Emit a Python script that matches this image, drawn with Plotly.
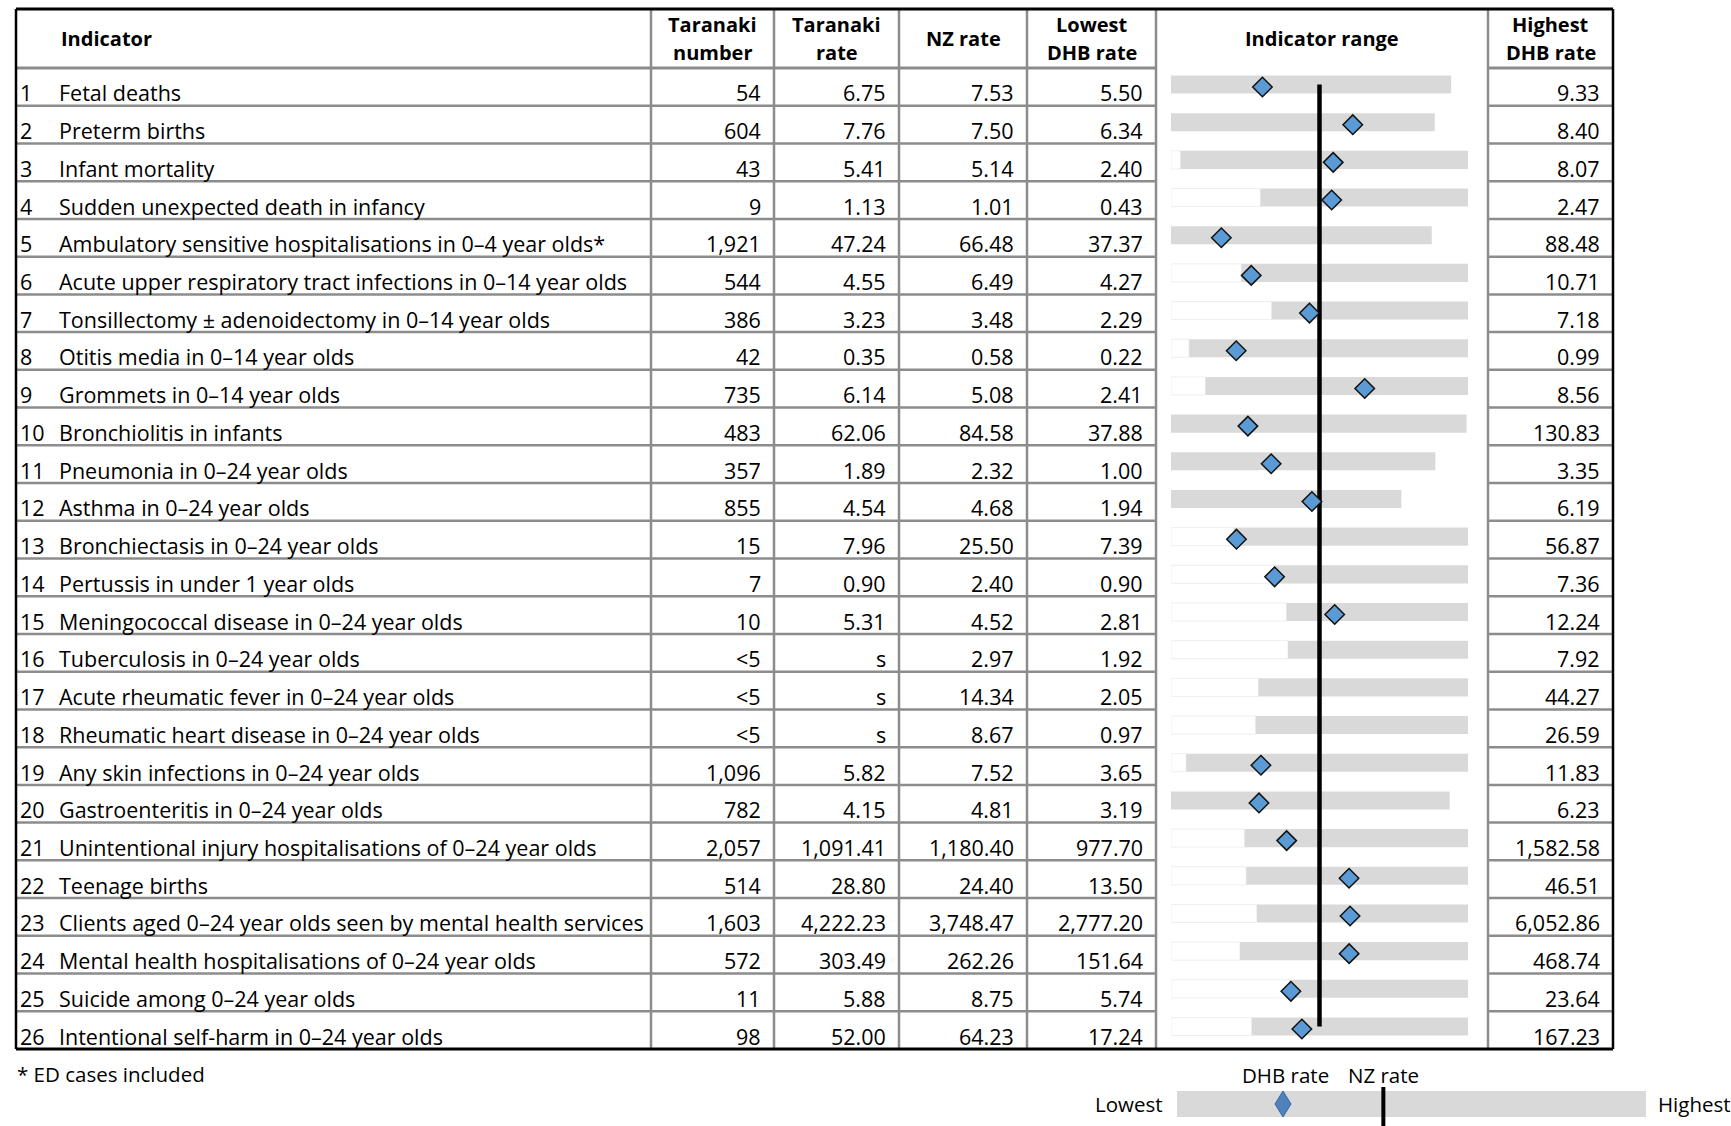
import plotly.graph_objects as go

# ---------------- data ----------------
indicators = [
    "Fetal deaths", "Preterm births", "Infant mortality",
    "Sudden unexpected death in infancy",
    "Ambulatory sensitive hospitalisations in 0–4 year olds*",
    "Acute upper respiratory tract infections in 0–14 year olds",
    "Tonsillectomy ± adenoidectomy in 0–14 year olds",
    "Otitis media in 0–14 year olds", "Grommets in 0–14 year olds",
    "Bronchiolitis in infants", "Pneumonia in 0–24 year olds",
    "Asthma in 0–24 year olds", "Bronchiectasis in 0–24 year olds",
    "Pertussis in under 1 year olds", "Meningococcal disease in 0–24 year olds",
    "Tuberculosis in 0–24 year olds", "Acute rheumatic fever in 0–24 year olds",
    "Rheumatic heart disease in 0–24 year olds",
    "Any skin infections in 0–24 year olds", "Gastroenteritis in 0–24 year olds",
    "Unintentional injury hospitalisations of 0–24 year olds", "Teenage births",
    "Clients aged 0–24 year olds seen by mental health services",
    "Mental health hospitalisations of 0–24 year olds",
    "Suicide among 0–24 year olds", "Intentional self-harm in 0–24 year olds",
]
taranaki_number = ["54", "604", "43", "9", "1,921", "544", "386", "42", "735", "483",
                   "357", "855", "15", "7", "10", "<5", "<5", "<5", "1,096", "782",
                   "2,057", "514", "1,603", "572", "11", "98"]
taranaki_rate = [6.75, 7.76, 5.41, 1.13, 47.24, 4.55, 3.23, 0.35, 6.14, 62.06,
                 1.89, 4.54, 7.96, 0.90, 5.31, None, None, None, 5.82, 4.15,
                 1091.41, 28.80, 4222.23, 303.49, 5.88, 52.00]
nz_rate = [7.53, 7.50, 5.14, 1.01, 66.48, 6.49, 3.48, 0.58, 5.08, 84.58,
           2.32, 4.68, 25.50, 2.40, 4.52, 2.97, 14.34, 8.67, 7.52, 4.81,
           1180.40, 24.40, 3748.47, 262.26, 8.75, 64.23]
lowest_rate = [5.50, 6.34, 2.40, 0.43, 37.37, 4.27, 2.29, 0.22, 2.41, 37.88,
               1.00, 1.94, 7.39, 0.90, 2.81, 1.92, 2.05, 0.97, 3.65, 3.19,
               977.70, 13.50, 2777.20, 151.64, 5.74, 17.24]
highest_rate = [9.33, 8.40, 8.07, 2.47, 88.48, 10.71, 7.18, 0.99, 8.56, 130.83,
                3.35, 6.19, 56.87, 7.36, 12.24, 7.92, 44.27, 26.59, 11.83, 6.23,
                1582.58, 46.51, 6052.86, 468.74, 23.64, 167.23]
headers = [["Indicator"], ["Taranaki", "number"], ["Taranaki", "rate"], ["NZ rate"],
           ["Lowest", "DHB rate"], ["Indicator range"], ["Highest", "DHB rate"]]
footnote = "* ED cases included"
legend_labels = ["DHB rate", "NZ rate", "Lowest", "Highest"]
legend_dhb_pos = 0.226   # illustrative key positions (fraction of key bar)
legend_nz_pos = 0.44

# ---------------- layout helpers ----------------
W, H = 1731, 1126
FONT = "Open Sans"
def X(px): return px / W
def Y(px): return 1 - px / H

col_x = [16, 651, 774, 899, 1027, 1156, 1488, 1613]
top, head_bot, bottom = 9, 68, 1049
n = len(indicators)
rh = (bottom - head_bot) / n
rows = list(range(1, n + 1))

def fmt(v):
    return "s" if v is None else f"{v:,.2f}"

def norm(v, nz, lo, hi):
    if v is None:
        return None
    span = max(nz - lo, hi - nz)
    return 0.5 + (v - nz) / span * 0.5

low_n = [norm(l, z, l, h) for l, z, h in zip(lowest_rate, nz_rate, highest_rate)]
high_n = [norm(h, z, l, h) for l, z, h in zip(lowest_rate, nz_rate, highest_rate)]
nz_n = [norm(z, z, l, h) for l, z, h in zip(lowest_rate, nz_rate, highest_rate)]
tar_n = [norm(t, z, l, h) for t, l, z, h in zip(taranaki_rate, lowest_rate, nz_rate, highest_rate)]

fig = go.Figure()

# range chart
bar_c0 = 84.5
bar_pitch = (1026.5 - 84.5) / (n - 1)
def ydom(shift):
    t = bar_c0 - bar_pitch / 2 + shift
    b = bar_c0 + (n - 1) * bar_pitch + bar_pitch / 2 + shift
    return [Y(b), Y(t)]

fig.add_trace(go.Bar(orientation="h", y=rows, x=low_n, base=[0] * n, width=0.48,
                     marker=dict(color="#ffffff", line=dict(color="#efefef", width=1)),
                     xaxis="x2", yaxis="y2", hoverinfo="skip"))
fig.add_trace(go.Bar(orientation="h", y=rows, x=[h - l for h, l in zip(high_n, low_n)],
                     base=low_n, width=0.48,
                     marker=dict(color="#d9d9d9", line=dict(width=0)),
                     xaxis="x2", yaxis="y2", hoverinfo="skip"))
fig.add_trace(go.Scatter(x=nz_n, y=rows, mode="lines",
                         line=dict(color="#000000", width=4.5),
                         xaxis="x2", yaxis="y2", hoverinfo="skip"))
fig.add_trace(go.Scatter(x=tar_n, y=rows, mode="markers",
                         marker=dict(symbol="diamond", size=15, color="#5b9bd5",
                                     line=dict(color="#111111", width=1.5)),
                         xaxis="x2", yaxis="y3", hoverinfo="skip"))

hid = dict(visible=False, showgrid=False, zeroline=False, fixedrange=True)
fig.update_layout(
    xaxis2=dict(domain=[X(1171), X(1468)], range=[0, 1], anchor="y2", **hid),
    yaxis2=dict(domain=ydom(0), range=[n + 0.5, 0.5], anchor="x2", **hid),
    yaxis3=dict(domain=ydom(2.5), range=[n + 0.5, 0.5], anchor="x2", **hid),
    barmode="overlay",
)

# ---------------- table lines ----------------
shapes = []
grid = dict(color="#8c8c8c", width=2.5)
for cx in col_x[1:-1]:
    shapes.append(dict(type="line", xref="paper", yref="paper",
                       x0=X(cx), x1=X(cx), y0=Y(top), y1=Y(bottom), line=grid))
for i in range(n):
    yy = head_bot + i * rh
    w = 3 if i == 0 else 2.5
    for xa, xb in [(col_x[0], col_x[5]), (col_x[6], col_x[7])]:
        shapes.append(dict(type="line", xref="paper", yref="paper",
                           x0=X(xa), x1=X(xb), y0=Y(yy), y1=Y(yy),
                           line=dict(color="#8c8c8c", width=w)))
blk = dict(color="#000000", width=3)
shapes += [
    dict(type="line", xref="paper", yref="paper", x0=X(col_x[0]), x1=X(col_x[-1]), y0=Y(top), y1=Y(top), line=blk),
    dict(type="line", xref="paper", yref="paper", x0=X(col_x[0]), x1=X(col_x[-1]), y0=Y(bottom), y1=Y(bottom), line=blk),
    dict(type="line", xref="paper", yref="paper", x0=X(col_x[0]), x1=X(col_x[0]), y0=Y(top), y1=Y(bottom), line=dict(color="#000", width=2.5)),
    dict(type="line", xref="paper", yref="paper", x0=X(col_x[-1]), x1=X(col_x[-1]), y0=Y(top), y1=Y(bottom), line=dict(color="#000", width=2.5)),
]

# ---------------- legend key ----------------
kx0, kx1, ky0, ky1 = 1177, 1646, 1091, 1117
shapes.append(dict(type="rect", xref="paper", yref="paper", x0=X(kx0), x1=X(kx1),
                   y0=Y(ky1), y1=Y(ky0), fillcolor="#d9d9d9", line=dict(width=0)))
nzx = kx0 + legend_nz_pos * (kx1 - kx0)
shapes.append(dict(type="line", xref="paper", yref="paper", x0=X(nzx), x1=X(nzx),
                   y0=Y(1087), y1=Y(1130), line=dict(color="#000", width=4)))
dx = kx0 + legend_dhb_pos * (kx1 - kx0)
dy = (ky0 + ky1) / 2
path = (f"M {X(dx)},{Y(dy - 13)} L {X(dx + 8)},{Y(dy)} "
        f"L {X(dx)},{Y(dy + 13)} L {X(dx - 8)},{Y(dy)} Z")
shapes.append(dict(type="path", xref="paper", yref="paper", path=path,
                   fillcolor="#4f81bd", line=dict(color="#3a679e", width=1)))

# ---------------- text ----------------
ann = []
def txt(s, x, y, xa="left", size=20, bold=False):
    ann.append(dict(text=f"<b>{s}</b>" if bold else s, x=X(x), y=Y(y),
                    xref="paper", yref="paper", xanchor=xa, yanchor="middle",
                    showarrow=False, font=dict(family=FONT, size=size, color="#000")))

hsize = 20
txt(headers[0][0], 59, 39, "left", hsize, True)
for ci, lines in enumerate(headers[1:], start=1):
    cx = (col_x[ci] + col_x[ci + 1]) / 2
    if len(lines) == 1:
        txt(lines[0], cx, 39, "center", hsize, True)
    else:
        txt(lines[0], cx, 24, "center", hsize, True)
        txt(lines[1], cx, 53, "center", hsize, True)

bsize = 21.5
for i in range(n):
    yc = head_bot + i * rh + rh / 2 + 6
    txt(str(rows[i]), 18, yc, "left", bsize)
    txt(indicators[i], 57, yc, "left", bsize)
    vals = [taranaki_number[i], fmt(taranaki_rate[i]), fmt(nz_rate[i]), fmt(lowest_rate[i])]
    for k, v in enumerate(vals):
        txt(v, col_x[k + 2] - 11, yc, "right", bsize)
    txt(fmt(highest_rate[i]), col_x[7] - 11, yc, "right", bsize)

txt(footnote, 15, 1074, "left", 20.5)
txt(legend_labels[0], dx + 3, 1075, "center", 20.5)
txt(legend_labels[1], nzx, 1075, "center", 20.5)
txt(legend_labels[2], 1165, 1104, "right", 20.5)
txt(legend_labels[3], 1656, 1104, "left", 20.5)

fig.update_layout(
    width=W, height=H, margin=dict(l=0, r=0, t=0, b=0),
    paper_bgcolor="#ffffff", plot_bgcolor="rgba(0,0,0,0)",
    showlegend=False, shapes=shapes, annotations=ann,
)

fig.write_html("out.html", config={"displayModeBar": False},
               post_script="document.body.style.margin='0';document.body.style.overflow='hidden';")
